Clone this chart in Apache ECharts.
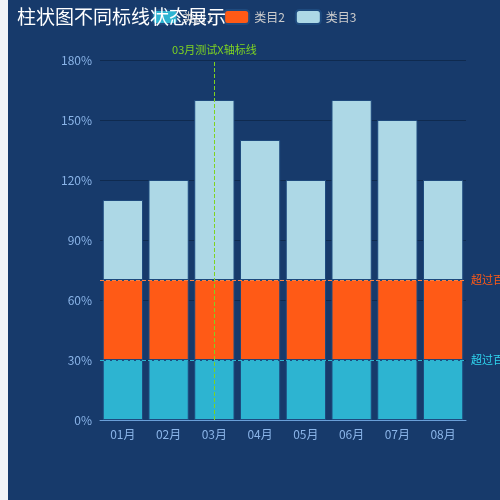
<!DOCTYPE html>
<html><head><meta charset="utf-8">
<script src="https://cdn.jsdelivr.net/npm/echarts@6/dist/echarts.min.js"></script>
<style>
body{margin:0;background:#f2f4f7;}
#c{position:absolute;left:8px;top:0;width:492px;height:500px;background:#173a6b;}
</style></head><body>
<div id="c"></div>
<script>
// Daten
const categories = ['01月','02月','03月','04月','05月','06月','07月','08月'];
const seriesNames = ['类目1','类目2','类目3'];
const values1 = [30,30,30,30,30,30,30,30];
const values2 = [40,40,40,40,40,40,40,40];
const values3 = [40,50,90,70,50,90,80,50];
const colors = ['#2db4d1','#ff5a16','#add8e6'];
const markY1 = 30, markY2 = 70;
const markX = '03月';

const chart = echarts.init(document.getElementById('c'));
const font = 'Noto Sans CJK SC';
function bar(i, data) {
    return {
        name: seriesNames[i], type: 'bar', stack: 'total', data: data,
        barWidth: '88%',
        itemStyle: { color: colors[i], borderColor: '#1e4a7e', borderWidth: 1 }
    };
}
const s1 = bar(0, values1);
s1.markLine = {
    symbol: 'none', silent: true,
    label: { position: 'end', formatter: '超过百分比', color: '#2fd6f0', fontSize: 11, fontFamily: font },
    lineStyle: { color: '#2db4d1', type: 'dashed', width: 1 },
    data: [{ yAxis: markY1 }]
};
const s2 = bar(1, values2);
s2.markLine = {
    symbol: 'none', silent: true,
    label: { position: 'end', formatter: '超过百分比', color: '#ff5a16', fontSize: 11, fontFamily: font },
    lineStyle: { color: '#ff8040', type: 'dashed', width: 1 },
    data: [{ yAxis: markY2 }]
};
const s3 = bar(2, values3);
s3.markLine = {
    symbol: 'none', silent: true,
    label: { position: 'end', formatter: '03月测试X轴标线', color: '#7ed321', fontSize: 11, fontFamily: font },
    lineStyle: { color: '#7ed321', type: 'dashed', width: 1 },
    data: [{ xAxis: markX }]
};

chart.setOption({
    textStyle: { fontFamily: font },
    title: { text: '柱状图不同标线状态展示', left: 4, top: 2,
        textStyle: { color: '#fff', fontSize: 19, fontWeight: 'normal', fontFamily: font } },
    legend: { left: 'center', top: 4, itemWidth: 25, itemHeight: 14, itemGap: 10,
        textStyle: { color: '#ccc', fontSize: 12 }, data: seriesNames },
    grid: { left: 92, right: 34, top: 60, bottom: 80 },
    xAxis: {
        type: 'category', data: categories,
        axisLine: { lineStyle: { color: '#6a9fd8' } },
        axisTick: { lineStyle: { color: '#6a9fd8' } },
        axisLabel: { color: '#8ab4e8', fontSize: 12 }
    },
    yAxis: {
        type: 'value', min: 0, max: 180, interval: 30,
        axisLine: { show: false }, axisTick: { show: false },
        axisLabel: { color: '#8ab4e8', fontSize: 12, formatter: '{value}%' },
        splitLine: { lineStyle: { color: '#0f2a4f' } }
    },
    series: [s1, s2, s3]
});
</script>
</body></html>
